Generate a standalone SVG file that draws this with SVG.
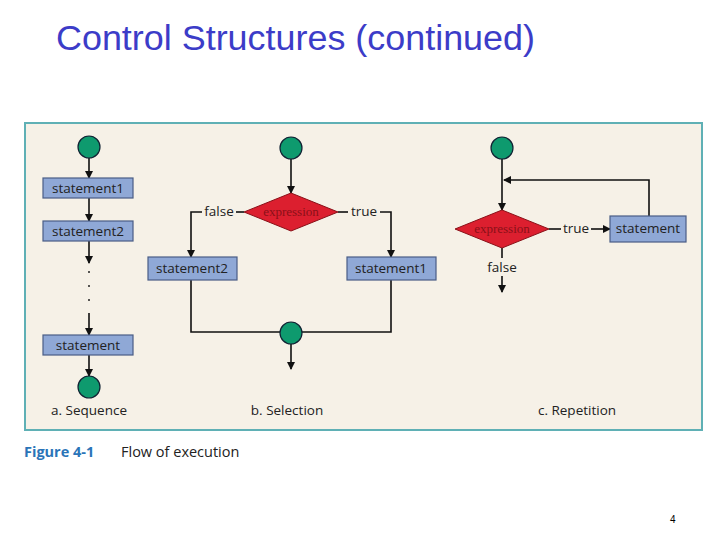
<svg xmlns="http://www.w3.org/2000/svg" width="720" height="540" viewBox="0 0 720 540">
<defs>
<marker id="ah" markerWidth="8" markerHeight="8" refX="7" refY="4" orient="auto" markerUnits="userSpaceOnUse"><path d="M0,0 L8,4 L0,8 z" fill="#111"/></marker>
<style>
.st{fill:#8fa8d6;stroke:#4a5d85;stroke-width:1.2}
.term{fill:#0e9a6e;stroke:#123;stroke-width:1.2}
.dia{fill:#dc1f2f;stroke:#8a1018;stroke-width:1}
.t{font-family:"Open Sans","Liberation Sans",sans-serif;font-size:13.5px;fill:#222;text-anchor:middle;dominant-baseline:middle}
.e{font-family:"Liberation Serif",serif;font-size:13px;fill:#8a1018;text-anchor:middle;dominant-baseline:middle}
.c{stroke:#111;stroke-width:1.6;fill:none}
.a{marker-end:url(#ah)}
</style>
</defs>
<rect width="720" height="540" fill="#fff"/>
<text x="56" y="50" font-family="Liberation Sans,sans-serif" font-size="35" fill="#3c3cc8" textLength="479" lengthAdjust="spacingAndGlyphs">Control Structures (continued)</text>
<rect x="25" y="123" width="677" height="307" fill="#f6f1e7" stroke="#5fb0b5" stroke-width="2"/>
<g id="connectors">
<path class="c a" d="M89,158 V178"/>
<path class="c a" d="M89,198 V221"/>
<path class="c a" d="M89,241 V263"/>
<path class="c a" d="M89,313 V335"/>
<path class="c a" d="M89,355 V376"/>
<path class="c a" d="M291,159 V193"/>
<path class="c" d="M244,212 H236"/>
<path class="c a" d="M202,212 H191 V257"/>
<path class="c" d="M338,212 H348"/>
<path class="c a" d="M380,212 H391 V257"/>
<path class="c" d="M191,280 V332 H280"/>
<path class="c" d="M391,280 V332 H302"/>
<path class="c a" d="M291,344 V369"/>
<path class="c a" d="M502,159 V210"/>
<path class="c a" d="M649,216 V180 H504"/>
<path class="c" d="M549,229 H561"/>
<path class="c a" d="M591,229 H610"/>
<path class="c" d="M502,248 V258"/>
<path class="c a" d="M502,276 V292"/>
</g>
<g id="seq-start"><circle class="term" cx="89" cy="147" r="11"/></g>
<g id="seq-s1"><rect class="st" x="43" y="178" width="90" height="20"/><text class="t" x="88" y="189">statement1</text></g>
<g id="seq-s2"><rect class="st" x="43" y="221" width="90" height="20"/><text class="t" x="88" y="232">statement2</text></g>
<g id="seq-dots" fill="#222"><circle cx="89" cy="272" r="1"/><circle cx="89" cy="286" r="1"/><circle cx="89" cy="300" r="1"/></g>
<g id="seq-s"><rect class="st" x="43" y="335" width="90" height="20"/><text class="t" x="88" y="346">statement</text></g>
<g id="seq-end"><circle class="term" cx="89" cy="387" r="11"/></g>
<g id="sel-start"><circle class="term" cx="291" cy="148" r="11"/></g>
<g id="sel-dia"><polygon class="dia" points="291,193 338,212 291,231 244,212"/><text class="e" x="291" y="213">expression</text></g>
<text class="t" x="219" y="212">false</text>
<text class="t" x="364" y="212">true</text>
<g id="sel-s2"><rect class="st" x="148" y="257" width="89" height="23"/><text class="t" x="192" y="269">statement2</text></g>
<g id="sel-s1"><rect class="st" x="347" y="257" width="89" height="23"/><text class="t" x="391" y="269">statement1</text></g>
<g id="sel-end"><circle class="term" cx="291" cy="333" r="11"/></g>
<g id="rep-start"><circle class="term" cx="502" cy="148" r="11"/></g>
<g id="rep-dia"><polygon class="dia" points="502,210 549,229 502,248 455,229"/><text class="e" x="502" y="230">expression</text></g>
<text class="t" x="576" y="229">true</text>
<text class="t" x="502" y="268">false</text>
<g id="rep-s"><rect class="st" x="610" y="216" width="76" height="26"/><text class="t" x="648" y="229">statement</text></g>
<text class="t" x="89" y="411">a. Sequence</text>
<text class="t" x="287" y="411">b. Selection</text>
<text class="t" x="577" y="411">c. Repetition</text>
<text x="24" y="457" font-family="Open Sans,Liberation Sans,sans-serif" font-size="14.5" font-weight="bold" fill="#2a74b8">Figure 4-1</text>
<text x="121" y="457" font-family="Open Sans,Liberation Sans,sans-serif" font-size="14.5" fill="#222">Flow of execution</text>
<text x="670" y="523" font-family="Liberation Sans,sans-serif" font-size="10" fill="#000">4</text>
</svg>
